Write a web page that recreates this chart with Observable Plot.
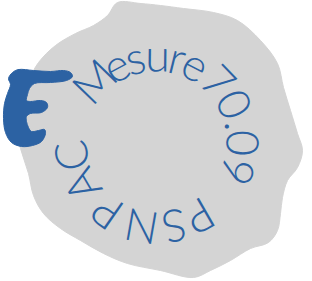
<!DOCTYPE html>
<html><head><meta charset="utf-8">
<script src="https://cdn.jsdelivr.net/npm/d3@7"></script>
<script src="https://cdn.jsdelivr.net/npm/@observablehq/plot@0.6"></script>
<style>html,body{margin:0;padding:0;background:#fff;}</style>
</head><body><div id="chart"></div>
<script>
// Outline of the scalloped grey seal
const blobX = [117,140,160,183,213,237,260,277,283,290,297,302,297,287,282,280,277,268,250,230,210,193,160,127,103,80,60,43,33,28,20,15,18,28,38,55,75,93,107];
const blobY = [2,3,5,8,12,20,40,63,87,110,133,150,167,180,197,213,230,242,248,260,270,277,270,263,253,240,228,213,195,173,148,125,100,80,62,45,33,25,15];

// Outline of the brush-stroke "E"
const eX = [12,18,33,50,63,70,72,66,50,34,29,27,26,30,40,46,47,41,30,26,26,28,31,38,44,45,41,32,21,11,5,3,4,7,10,8];
const eY = [72,69,70,71,70,72,76,80,82,83,88,94,100,101,100,102,107,112,113,116,121,127,131,130,129,133,141,145,146,142,132,118,103,93,84,78];

// Ring text: characters and their angle (deg, clockwise from top)
const chars = ["M","e","s","u","r","e","7","0",".","0","9","P","S","N","P","A","C"];
const charAngles = [-46,-28,-14.5,0.7,14,27,46,64.5,78,91,110,150,168,190,215,239.6,260.5];

const W = 312, H = 281;
const cx = 156, cy = 141, rBase = 70;
const blue = "#2c62a3", grey = "#d4d4d4";

const blob = blobX.map((x, i) => ({x, y: blobY[i]}));
const eShape = eX.map((x, i) => ({x, y: eY[i]}));
const letters = chars.map((c, i) => {
  const a = charAngles[i] * Math.PI / 180;
  return {c, rot: charAngles[i], x: cx + rBase * Math.sin(a), y: cy - rBase * Math.cos(a)};
});

const plot = Plot.plot({
  width: W, height: H,
  margin: 0,
  x: {domain: [0, W], range: [0, W], axis: null},
  y: {domain: [0, H], range: [0, H], axis: null},
  marks: [
    Plot.line(blob, {x: "x", y: "y", curve: "catmull-rom-closed", fill: grey, stroke: grey, strokeWidth: 1}),
    Plot.text(letters, {x: "x", y: "y", text: "c", rotate: "rot", fill: blue,
      fontSize: 45, fontFamily: "Lato", fontWeight: 300, textAnchor: "middle", lineAnchor: "bottom"}),
    Plot.line(eShape, {x: "x", y: "y", curve: "catmull-rom-closed", fill: blue, stroke: blue, strokeWidth: 1})
  ]
});
document.getElementById("chart").appendChild(plot);
</script>
</body></html>
